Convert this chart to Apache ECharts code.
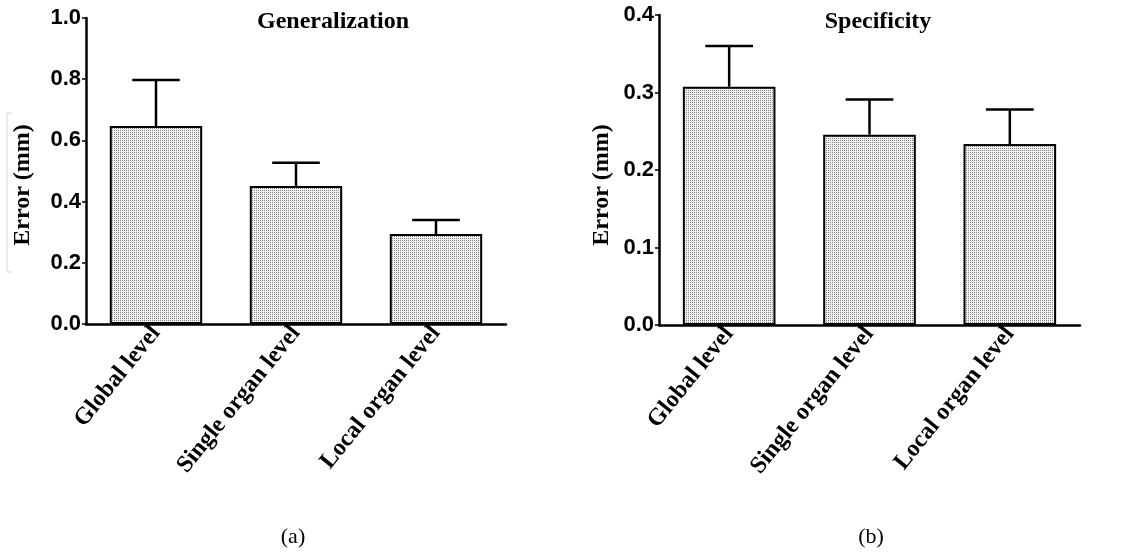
<!DOCTYPE html>
<html>
<head>
<meta charset="utf-8">
<script src="https://cdn.jsdelivr.net/npm/echarts@6/dist/echarts.min.js"></script>
<style>
html,body{margin:0;padding:0;background:#fff;}
#main{width:1126px;height:557px;}
</style>
</head>
<body>
<div id="main"></div>
<script>
// ---- data ----
var categories = ['Global level', 'Single organ level', 'Local organ level'];
var genMean = [0.647, 0.451, 0.294];
var genUpper = [0.797, 0.527, 0.340];
var specMean = [0.3075, 0.2456, 0.2335];
var specUpper = [0.360, 0.291, 0.278];
var genTicks = [0.0, 1.0, 0.2];   // min, max, interval
var specTicks = [0.0, 0.4, 0.1];
var titles = ['Generalization', 'Specificity'];
var captions = ['(a)', '(b)'];
var yName = 'Error (mm)';

// ---- pattern fill (dotted) ----
var pc = document.createElement('canvas');
pc.width = 2; pc.height = 2;
var pctx = pc.getContext('2d');
pctx.fillStyle = '#f1f1f1'; pctx.fillRect(0,0,2,2);
pctx.fillStyle = '#858585'; pctx.fillRect(0,0,1,1);
var patternFill = {image: pc, repeat: 'repeat'};

var serif = '"Liberation Serif", "Times New Roman", serif';
var sans = '"Liberation Sans", Arial, sans-serif';

function errData(mean, upper){
  return mean.map(function(m,i){ return [i, m, upper[i]]; });
}
function renderErr(params, api){
  var x = api.value(0), m = api.value(1), u = api.value(2);
  var p0 = api.coord([x, m]);
  var p1 = api.coord([x, u]);
  var hw = api.size([1, 0])[0] * 0.17;
  return {type:'group', children:[
    {type:'line', shape:{x1:p0[0], y1:p0[1], x2:p1[0], y2:p1[1]}, style:{stroke:'#000', lineWidth:2.5}},
    {type:'line', shape:{x1:p1[0]-hw, y1:p1[1], x2:p1[0]+hw, y2:p1[1]}, style:{stroke:'#000', lineWidth:2.5}}
  ]};
}
function xAxis(gi){
  return {
    type:'category', gridIndex:gi, data:categories,
    axisLine:{lineStyle:{color:'#000', width:2.5}},
    axisTick:{show:false},
    axisLabel:{rotate:51, interval:0, margin:5, color:'#000', fontFamily:serif, fontWeight:'bold', fontSize:24}
  };
}
function yAxis(gi, t){
  return {
    type:'value', gridIndex:gi, min:t[0], max:t[1], interval:t[2],
    axisLine:{show:true, lineStyle:{color:'#000', width:2.5}},
    axisTick:{show:true, length:4, lineStyle:{color:'#000', width:1.5}},
    splitLine:{show:false},
    axisLabel:{margin:5, color:'#000', fontFamily:sans, fontWeight:'bold', fontSize:22,
      formatter:function(v){ return v.toFixed(1); }}
  };
}
function nameText(x, y){
  return {type:'text', x:x, y:y, rotation:Math.PI/2,
    style:{text:yName, fontFamily:serif, fontWeight:'bold', fontSize:24, fill:'#000',
      align:'center', verticalAlign:'middle'}};
}

var chart = echarts.init(document.getElementById('main'), null, {renderer:'canvas'});
chart.setOption({
  backgroundColor:'#fff',
  animation:false,
  title:[
    {text:titles[0], left:328, top:5, textAlign:'center', textStyle:{fontFamily:serif, fontWeight:'bold', fontSize:24, color:'#000'}},
    {text:titles[1], left:873, top:5, textAlign:'center', textStyle:{fontFamily:serif, fontWeight:'bold', fontSize:24, color:'#000'}},
    {text:captions[0], left:288, top:521, textAlign:'center', textStyle:{fontFamily:serif, fontWeight:'normal', fontSize:22, color:'#000'}},
    {text:captions[1], left:866, top:521, textAlign:'center', textStyle:{fontFamily:serif, fontWeight:'normal', fontSize:22, color:'#000'}}
  ],
  graphic:[
    nameText(23, 185),
    nameText(602, 185),
    {type:'polyline', shape:{points:[[12,113],[7,113],[7,272],[12,272]]}, style:{stroke:'#d6d6d6', lineWidth:1, fill:null}}
  ],
  grid:[
    {left:86, right:620, top:18, bottom:233},
    {left:659, right:46, top:15, bottom:232}
  ],
  xAxis:[xAxis(0), xAxis(1)],
  yAxis:[yAxis(0, genTicks), yAxis(1, specTicks)],
  series:[
    {type:'bar', xAxisIndex:0, yAxisIndex:0, data:genMean, barWidth:'66%',
      itemStyle:{color:patternFill, borderColor:'#000', borderWidth:2}},
    {type:'bar', xAxisIndex:1, yAxisIndex:1, data:specMean, barWidth:'66%',
      itemStyle:{color:patternFill, borderColor:'#000', borderWidth:2}},
    {type:'custom', xAxisIndex:0, yAxisIndex:0, data:errData(genMean, genUpper), renderItem:renderErr, z:1},
    {type:'custom', xAxisIndex:1, yAxisIndex:1, data:errData(specMean, specUpper), renderItem:renderErr, z:1}
  ]
});
</script>
</body>
</html>
